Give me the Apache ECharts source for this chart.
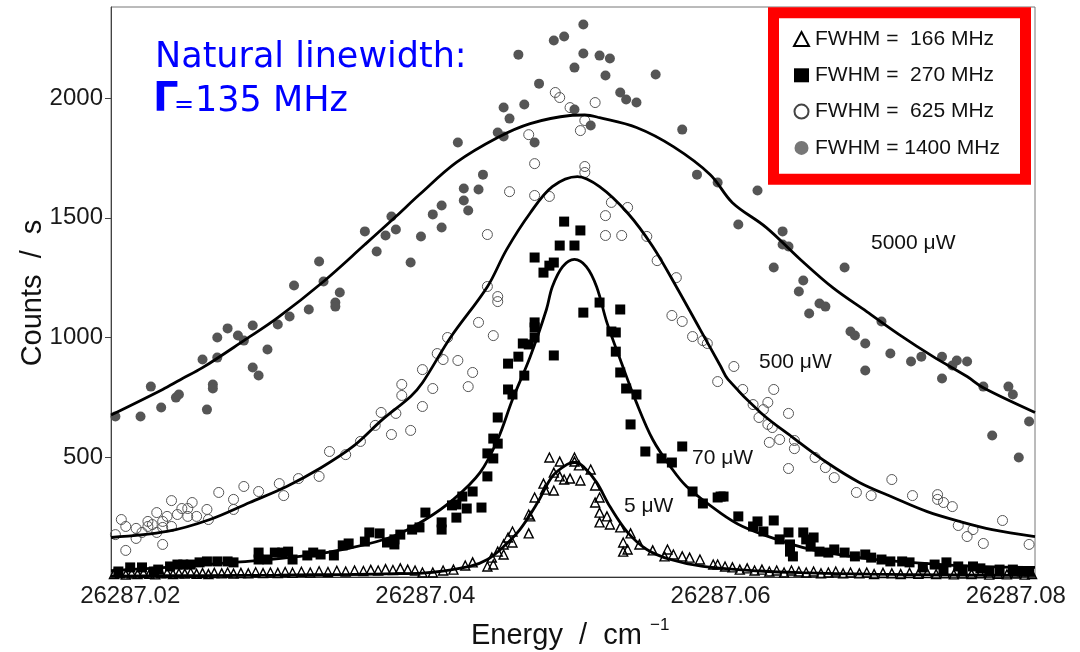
<!DOCTYPE html>
<html>
<head>
<meta charset="utf-8">
<title>Power broadening</title>
<script src="https://cdn.jsdelivr.net/npm/echarts@6/dist/echarts.min.js"></script>
<style>
  html, body { margin: 0; padding: 0; background: #fff; }
  #chart { width: 1080px; height: 652px; }
</style>
</head>
<body>
<div id="chart"></div>
<script>
// axis ticks
var xTicks = [26287.02, 26287.04, 26287.06, 26287.08];
var yTicks = [500, 1000, 1500, 2000];

// legend names and power labels
var seriesNames = ['FWHM =  166 MHz', 'FWHM =  270 MHz', 'FWHM =  625 MHz', 'FWHM = 1400 MHz'];
var powerLabels = ['5 μW', '70 μW', '500 μW', '5000 μW'];
var noteLines = ['Natural linewidth:', 'Γ', '=', '135 MHz'];

// 5 uW, FWHM 166 MHz (open triangles)
var pts166 = [
  [26287.0189,12],[26287.0193,15],[26287.0197,10],[26287.0201,14],[26287.0205,12],[26287.0209,16],[26287.0213,13],[26287.0217,11],
  [26287.0221,15],[26287.0225,17],[26287.0229,12],[26287.0233,15],[26287.0237,14],[26287.0241,18],[26287.0245,13],[26287.0249,16],
  [26287.0253,12],[26287.0257,17],[26287.0262,15],[26287.0266,19],[26287.0270,14],[26287.0275,17],[26287.0280,15],[26287.0285,20],
  [26287.0290,16],[26287.0295,19],[26287.0300,17],[26287.0305,21],[26287.0310,18],[26287.0316,22],[26287.0322,19],[26287.0328,24],
  [26287.0334,21],[26287.0340,26],[26287.0346,23],[26287.0352,27],[26287.0358,25],[26287.0363,30],[26287.0368,27],[26287.0373,33],
  [26287.0378,29],[26287.0383,36],[26287.0388,31],[26287.0393,27],[26287.0398,19],[26287.0405,19],[26287.0412,27],[26287.0419,31],
  [26287.0427,48],[26287.0432,61],[26287.0442,44],[26287.0446,52],[26287.0445,81],[26287.0449,106],[26287.0453,94],[26287.0453,136],
  [26287.0456,165],[26287.0459,144],[26287.0459,190],[26287.0470,182],[26287.0470,261],[26287.0471,253],[26287.0474,332],[26287.0480,390],
  [26287.0481,365],[26287.0484,499],[26287.0487,436],[26287.0487,361],[26287.0491,482],[26287.0491,420],[26287.0494,407],[26287.0498,411],
  [26287.0501,499],[26287.0501,482],[26287.0504,466],[26287.0505,403],[26287.0512,449],[26287.0515,382],[26287.0515,311],[26287.0518,332],
  [26287.0518,269],[26287.0518,228],[26287.0523,253],[26287.0525,219],[26287.0532,207],[26287.0534,144],[26287.0537,115],[26287.0534,106],
  [26287.0539,182],[26287.0545,136],[26287.0554,111],[26287.0562,86],[26287.0564,115],[26287.0568,94],[26287.0574,86],[26287.0579,81],
  [26287.0586,73],[26287.0595,52],[26287.0598,52],[26287.0603,44],[26287.0608,40],[26287.0613,31],[26287.0618,36],[26287.0623,27],
  [26287.0628,31],[26287.0633,23],[26287.0638,27],[26287.0643,19],[26287.0648,27],[26287.0653,23],[26287.0658,19],[26287.0663,23],
  [26287.0668,15],[26287.0673,19],[26287.0678,23],[26287.0683,15],[26287.0688,19],[26287.0694,15],[26287.0699,19],[26287.0704,12],
  [26287.0710,17],[26287.0716,15],[26287.0722,12],[26287.0728,17],[26287.0734,13],[26287.0740,16],[26287.0746,12],[26287.0752,15],
  [26287.0758,11],[26287.0764,14],[26287.0770,12],[26287.0776,15],[26287.0782,10],[26287.0788,13],[26287.0794,11],[26287.0800,14],
  [26287.0806,10],[26287.0811,12]
];

// 70 uW, FWHM 270 MHz (filled squares)
var pts270 = [
  [26287.0192,23],[26287.0200,40],[26287.0208,40],[26287.0216,23],[26287.0219,31],[26287.0227,44],[26287.0232,52],[26287.0236,52],
  [26287.0241,52],[26287.0247,61],[26287.0252,65],[26287.0259,65],[26287.0266,65],[26287.0270,61],[26287.0287,102],[26287.0287,73],
  [26287.0293,73],[26287.0298,102],[26287.0303,102],[26287.0307,106],[26287.0310,73],[26287.0320,90],[26287.0324,102],[26287.0329,94],
  [26287.0338,90],[26287.0344,132],[26287.0348,140],[26287.0359,148],[26287.0362,186],[26287.0369,182],[26287.0374,144],[26287.0379,157],
  [26287.0379,136],[26287.0383,177],[26287.0391,198],[26287.0396,207],[26287.0400,269],[26287.0411,228],[26287.0411,198],[26287.0418,299],
  [26287.0421,303],[26287.0421,248],[26287.0425,336],[26287.0428,286],[26287.0432,357],[26287.0438,290],[26287.0442,420],[26287.0442,516],
  [26287.0446,495],[26287.0446,578],[26287.0449,557],[26287.0449,666],[26287.0456,783],[26287.0459,762],[26287.0456,891],[26287.0463,920],
  [26287.0467,841],[26287.0466,975],[26287.0470,971],[26287.0474,1000],[26287.0474,1042],[26287.0474,1063],[26287.0474,1334],[26287.0480,1271],
  [26287.0484,1300],[26287.0487,1313],[26287.0487,925],[26287.0491,1384],[26287.0494,1484],[26287.0501,1384],[26287.0505,1447],[26287.0507,1104],
  [26287.0518,1146],[26287.0532,1117],[26287.0526,1025],[26287.0529,1021],[26287.0529,941],[26287.0532,854],[26287.0536,787],[26287.0543,762],
  [26287.0539,637],[26287.0549,524],[26287.0560,495],[26287.0567,478],[26287.0574,545],[26287.0581,357],[26287.0588,307],[26287.0598,332],
  [26287.0600,336],[26287.0602,336],[26287.0612,253],[26287.0622,211],[26287.0625,232],[26287.0629,190],[26287.0636,236],[26287.0640,157],
  [26287.0646,186],[26287.0647,136],[26287.0647,106],[26287.0649,86],[26287.0656,186],[26287.0658,157],[26287.0661,127],[26287.0663,165],
  [26287.0667,106],[26287.0673,102],[26287.0677,115],[26287.0684,102],[26287.0691,86],[26287.0698,94],[26287.0702,81],[26287.0709,73],
  [26287.0715,65],[26287.0723,65],[26287.0728,61],[26287.0737,40],[26287.0745,52],[26287.0751,31],[26287.0753,61],[26287.0761,44],
  [26287.0764,31],[26287.0771,44],[26287.0776,36],[26287.0782,23],[26287.0789,31],[26287.0798,31],[26287.0804,23],[26287.0809,23]
];

// 500 uW, FWHM 625 MHz (open circles)
var pts625 = [
  [26287.0190,177],[26287.0194,240],[26287.0197,211],[26287.0197,111],[26287.0204,203],[26287.0204,161],[26287.0208,186],[26287.0212,232],
  [26287.0212,211],[26287.0215,219],[26287.0218,269],[26287.0218,186],[26287.0222,232],[26287.0222,207],[26287.0222,136],[26287.0225,253],
  [26287.0228,319],[26287.0228,211],[26287.0232,261],[26287.0235,286],[26287.0239,286],[26287.0239,253],[26287.0242,311],[26287.0245,253],
  [26287.0252,282],[26287.0253,240],[26287.0260,353],[26287.0270,324],[26287.0270,282],[26287.0277,378],[26287.0287,357],[26287.0301,390],
  [26287.0304,340],[26287.0314,411],[26287.0328,420],[26287.0335,524],[26287.0346,511],[26287.0356,566],[26287.0366,633],[26287.0370,687],
  [26287.0377,595],[26287.0380,683],[26287.0384,804],[26287.0384,758],[26287.0390,612],[26287.0398,712],[26287.0398,866],[26287.0405,787],
  [26287.0408,933],[26287.0412,908],[26287.0415,1000],[26287.0422,904],[26287.0429,795],[26287.0432,854],[26287.0436,1063],[26287.0442,1213],
  [26287.0446,1008],[26287.0449,1171],[26287.0449,1150],[26287.0442,1430],[26287.0457,1609],[26287.0470,1847],[26287.0474,1726],[26287.0474,1593],
  [26287.0484,1589],[26287.0488,2023],[26287.0491,2002],[26287.0498,1960],[26287.0505,1864],[26287.0508,1906],[26287.0508,1714],[26287.0508,1689],
  [26287.0515,1981],[26287.0522,1509],[26287.0522,1426],[26287.0526,1564],[26287.0533,1426],[26287.0537,1543],[26287.0550,1422],[26287.0557,1321],
  [26287.0567,1092],[26287.0570,1250],[26287.0574,1067],[26287.0581,1004],[26287.0588,987],[26287.0591,975],[26287.0598,816],[26287.0609,879],
  [26287.0615,783],[26287.0622,720],[26287.0626,666],[26287.0629,699],[26287.0632,729],[26287.0632,637],[26287.0635,624],[26287.0636,783],
  [26287.0646,683],[26287.0633,562],[26287.0640,574],[26287.0650,570],[26287.0650,536],[26287.0646,453],[26287.0664,499],[26287.0671,457],
  [26287.0677,415],[26287.0692,353],[26287.0702,340],[26287.0716,407],[26287.0730,340],[26287.0747,344],[26287.0747,324],[26287.0751,311],
  [26287.0757,294],[26287.0761,215],[26287.0767,169],[26287.0771,198],[26287.0778,140],[26287.0791,236],[26287.0809,136]
];

// 5000 uW, FWHM 1400 MHz (grey filled circles)
var pts1400 = [
  [26287.0190,670],[26287.0207,670],[26287.0214,795],[26287.0221,708],[26287.0231,749],[26287.0233,762],[26287.0249,908],[26287.0252,699],
  [26287.0256,804],[26287.0256,787],[26287.0259,916],[26287.0259,1000],[26287.0266,1038],[26287.0273,1008],[26287.0277,987],[26287.0283,1050],
  [26287.0283,875],[26287.0287,841],[26287.0293,950],[26287.0300,1054],[26287.0308,1088],[26287.0311,1217],[26287.0321,1117],[26287.0328,1317],
  [26287.0331,1234],[26287.0339,1146],[26287.0339,1129],[26287.0342,1188],[26287.0359,1443],[26287.0367,1359],[26287.0373,1426],[26287.0377,1505],
  [26287.0380,1451],[26287.0390,1313],[26287.0397,1422],[26287.0405,1514],[26287.0411,1551],[26287.0411,1459],[26287.0422,1814],[26287.0426,1622],
  [26287.0426,1572],[26287.0429,1530],[26287.0436,1618],[26287.0439,1680],[26287.0449,1856],[26287.0453,1839],[26287.0453,1960],[26287.0457,1914],
  [26287.0463,2181],[26287.0467,1973],[26287.0474,1814],[26287.0477,2060],[26287.0487,2240],[26287.0494,2257],[26287.0501,2127],[26287.0501,1952],
  [26287.0507,2307],[26287.0507,2186],[26287.0512,1885],[26287.0518,2177],[26287.0522,2094],[26287.0525,2165],[26287.0532,2023],[26287.0536,1994],
  [26287.0543,1981],[26287.0556,2098],[26287.0574,1868],[26287.0584,1680],[26287.0598,1647],[26287.0612,1472],[26287.0625,1614],[26287.0636,1292],
  [26287.0642,1443],[26287.0642,1388],[26287.0646,1380],[26287.0653,1192],[26287.0656,1238],[26287.0660,1100],[26287.0667,1142],[26287.0671,1129],
  [26287.0684,1292],[26287.0688,1025],[26287.0691,1008],[26287.0698,975],[26287.0698,862],[26287.0709,1067],[26287.0715,933],[26287.0729,900],
  [26287.0736,920],[26287.0750,920],[26287.0750,829],[26287.0757,883],[26287.0760,904],[26287.0767,900],[26287.0778,795],[26287.0784,591],
  [26287.0795,795],[26287.0798,762],[26287.0802,499],[26287.0809,649]
];

// fitted curves
var fit166 = [
  [26287.0187,4],[26287.0250,6],[26287.0300,8],[26287.0350,11],[26287.0380,14],[26287.0398,16],[26287.0430,44],[26287.0442,73],
  [26287.0453,127],[26287.0464,198],[26287.0476,311],[26287.0486,420],[26287.0496,470],[26287.0501,478],[26287.0507,461],[26287.0516,395],
  [26287.0525,294],[26287.0537,186],[26287.0550,115],[26287.0566,73],[26287.0588,44],[26287.0627,25],[26287.0654,18],[26287.0701,12],
  [26287.0755,9],[26287.0813,7]
];
var fit270 = [
  [26287.0187,27],[26287.0225,40],[26287.0270,61],[26287.0315,86],[26287.0349,121],[26287.0378,169],[26287.0400,240],[26287.0419,324],
  [26287.0437,436],[26287.0449,574],[26287.0459,741],[26287.0471,920],[26287.0482,1117],[26287.0486,1212],[26287.0493,1296],[26287.0501,1326],
  [26287.0509,1296],[26287.0516,1212],[26287.0523,1062],[26287.0532,908],[26287.0543,728],[26287.0554,574],[26287.0566,461],[26287.0577,378],
  [26287.0600,267],[26287.0615,211],[26287.0638,157],[26287.0661,115],[26287.0694,81],[26287.0728,61],[26287.0774,44],[26287.0813,40]
];
var fit625 = [
  [26287.0187,165],[26287.0225,190],[26287.0254,240],[26287.0281,311],[26287.0306,378],[26287.0329,455],[26287.0351,545],[26287.0371,658],
  [26287.0390,754],[26287.0398,811],[26287.0417,1000],[26287.0442,1212],[26287.0455,1367],[26287.0471,1520],[26287.0486,1630],[26287.0503,1672],
  [26287.0518,1630],[26287.0537,1520],[26287.0554,1380],[26287.0570,1212],[26287.0586,1035],[26287.0600,880],[26287.0605,825],[26287.0627,687],
  [26287.0649,582],[26287.0672,478],[26287.0694,395],[26287.0717,332],[26287.0740,273],[26287.0762,232],[26287.0784,198],[26287.0813,169]
];
var fit1400 = [
  [26287.0187,676],[26287.0222,783],[26287.0234,824],[26287.0249,874],[26287.0277,987],[26287.0300,1083],[26287.0331,1234],[26287.0359,1388],
  [26287.0380,1505],[26287.0396,1597],[26287.0421,1731],[26287.0449,1835],[26287.0471,1893],[26287.0498,1927],[26287.0508,1929],[26287.0518,1918],
  [26287.0543,1877],[26287.0568,1797],[26287.0593,1680],[26287.0608,1563],[26287.0631,1459],[26287.0654,1326],[26287.0676,1208],[26287.0699,1108],
  [26287.0721,1012],[26287.0744,920],[26287.0767,837],[26287.0778,790],[26287.0813,687]
];

var chart = echarts.init(document.getElementById('chart'));

var axisFont = 'Liberation Sans, Arial, sans-serif';

function fitSeries(data) {
  return {
    type: 'line',
    data: data,
    smooth: 0.35,
    showSymbol: false,
    silent: true,
    z: 5,
    lineStyle: { color: '#000', width: 2.8 }
  };
}

function textEl(x, y, txt, size, color, extra) {
  var st = {
    text: txt,
    x: x,
    y: y,
    fill: color,
    font: size + 'px ' + axisFont,
    verticalAlign: 'middle'
  };
  if (extra) {
    for (var k in extra) st[k] = extra[k];
  }
  return { type: 'text', z: 50, style: st };
}

var option = {
  animation: false,
  backgroundColor: '#fff',
  grid: {
    left: 111,
    right: 45,
    top: 7,
    bottom: 75,
    show: true,
    borderColor: '#777',
    borderWidth: 1,
    outerBoundsMode: 'none'
  },
  xAxis: {
    type: 'value',
    min: 26287.0187,
    max: 26287.0813,
    axisLine: { lineStyle: { color: '#333', width: 1 } },
    axisTick: { show: false },
    splitLine: { show: false },
    axisLabel: {
      customValues: xTicks,
      margin: 7,
      fontSize: 24,
      fontFamily: axisFont,
      color: '#1a1a1a',
      formatter: function (v) { return v.toFixed(2); }
    }
  },
  yAxis: {
    type: 'value',
    min: 0,
    max: 2380,
    axisLine: { show: true, lineStyle: { color: '#444', width: 1 } },
    axisTick: { show: true, customValues: yTicks, length: 6, inside: false, lineStyle: { color: '#444' } },
    splitLine: { show: false },
    axisLabel: {
      customValues: yTicks,
      margin: 8,
      fontSize: 24,
      fontFamily: axisFont,
      color: '#1a1a1a',
      formatter: function (v) { return String(Math.round(v)); }
    }
  },
  legend: {
    orient: 'vertical',
    left: 788,
    top: 23,
    z: 200,
    itemWidth: 15,
    itemHeight: 14,
    itemGap: 14.3,
    selectedMode: false,
    textStyle: { fontSize: 21, fontFamily: axisFont, color: '#111', lineHeight: 22, padding: [0, 0, 0, 1] },
    data: [
      { name: seriesNames[0], icon: 'triangle', itemStyle: { color: '#fff', borderColor: '#000', borderWidth: 2 } },
      { name: seriesNames[1], icon: 'rect', itemStyle: { color: '#000' } },
      { name: seriesNames[2], icon: 'circle', itemStyle: { color: '#fff', borderColor: '#444', borderWidth: 2 } },
      { name: seriesNames[3], icon: 'circle', itemStyle: { color: '#777' } }
    ]
  },
  graphic: [
    {
      type: 'rect',
      z: 100,
      shape: { x: 773.5, y: 12.8, width: 252, height: 166.5 },
      style: { fill: '#fff', stroke: '#ff0000', lineWidth: 11 }
    },
    textEl(155, 58, noteLines[0], 35, '#0000ff', { font: '35px DejaVu Sans, sans-serif' }),
    textEl(153, 101, noteLines[1], 40, '#0000ff', { font: 'bold 40px DejaVu Sans, sans-serif' }),
    textEl(174, 106, noteLines[2], 24, '#0000ff', { font: '24px DejaVu Sans, sans-serif' }),
    textEl(195, 102, noteLines[3], 35, '#0000ff', { font: '35px DejaVu Sans, sans-serif' }),
    textEl(871, 243, powerLabels[3], 21, '#111'),
    textEl(759, 362, powerLabels[2], 21, '#111'),
    textEl(692, 458, powerLabels[1], 21, '#111'),
    textEl(624, 506, powerLabels[0], 21, '#111'),
    {
      type: 'text', z: 50,
      style: { text: 'Counts  /  s', x: 33, y: 293, fill: '#111', font: '29px ' + axisFont, align: 'center', verticalAlign: 'middle' },
      rotation: Math.PI / 2,
      x: 0, y: 0,
      originX: 33, originY: 293
    },
    textEl(471, 636, 'Energy  /  cm', 29, '#111'),
    textEl(650, 625, '\u22121', 17, '#111')
  ],
  series: [
    {
      name: seriesNames[3],
      type: 'scatter',
      data: pts1400,
      symbol: 'circle',
      symbolSize: 10,
      z: 2,
      itemStyle: { color: '#555', opacity: 1 }
    },
    {
      name: seriesNames[2],
      type: 'scatter',
      data: pts625,
      symbol: 'circle',
      symbolSize: 10,
      z: 2,
      itemStyle: { color: 'rgba(255,255,255,0)', borderColor: '#555', borderWidth: 1, opacity: 1 }
    },
    {
      name: seriesNames[1],
      type: 'scatter',
      data: pts270,
      symbol: 'rect',
      symbolSize: 10,
      z: 3,
      itemStyle: { color: '#000', opacity: 1 }
    },
    {
      name: seriesNames[0],
      type: 'scatter',
      data: pts166,
      symbol: 'triangle',
      symbolSize: 9,
      z: 3,
      itemStyle: { color: 'rgba(255,255,255,0)', borderColor: '#000', borderWidth: 1.4, opacity: 1 }
    },
    fitSeries(fit1400),
    fitSeries(fit625),
    fitSeries(fit270),
    fitSeries(fit166)
  ]
};

chart.setOption(option);
</script>
</body>
</html>
